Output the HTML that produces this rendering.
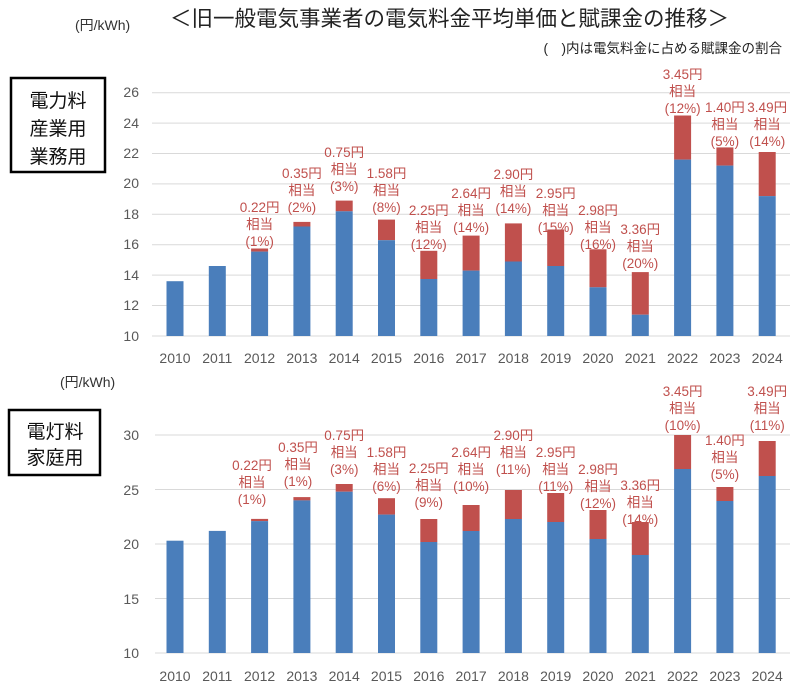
<!DOCTYPE html>
<html><head><meta charset="utf-8"><style>
body{margin:0;background:#fff}
svg{display:block}
text{font-family:"Liberation Sans","Noto Sans CJK JP",sans-serif}
.ax{font-size:14px;fill:#595959}
.lb{font-size:13.5px;fill:#c0504d;text-anchor:middle}
.g{stroke:#d9d9d9;stroke-width:1}
.b{fill:#4a7ebb}.r{fill:#c0504d}
</style></head><body>
<svg width="800" height="695" viewBox="0 0 800 695">
<text x="75" y="30" font-size="14" fill="#333">(円/kWh)</text>
<text x="170" y="26" font-size="21.5" fill="#222">＜旧一般電気事業者の電気料金平均単価と賦課金の推移＞</text>
<text x="782" y="53" font-size="13.5" fill="#222" text-anchor="end">(　)内は電気料金に占める賦課金の割合</text>
<rect x="11" y="78" width="94" height="94" fill="none" stroke="#000" stroke-width="2.5"/>
<text x="58" y="107" font-size="19" text-anchor="middle" fill="#111">電力料</text>
<text x="58" y="135" font-size="19" text-anchor="middle" fill="#111">産業用</text>
<text x="58" y="163" font-size="19" text-anchor="middle" fill="#111">業務用</text>
<g class="g">
<line x1="152" x2="790" y1="92.7" y2="92.7"/><line x1="152" x2="790" y1="123.1" y2="123.1"/><line x1="152" x2="790" y1="153.5" y2="153.5"/><line x1="152" x2="790" y1="183.9" y2="183.9"/><line x1="152" x2="790" y1="214.3" y2="214.3"/><line x1="152" x2="790" y1="244.7" y2="244.7"/><line x1="152" x2="790" y1="275.1" y2="275.1"/><line x1="152" x2="790" y1="305.5" y2="305.5"/><line x1="152" x2="790" y1="336" y2="336"/>
</g>
<g class="ax" text-anchor="end">
<text x="139" y="97">26</text><text x="139" y="128">24</text><text x="139" y="158">22</text><text x="139" y="188">20</text><text x="139" y="219">18</text><text x="139" y="249">16</text><text x="139" y="280">14</text><text x="139" y="310">12</text><text x="139" y="341">10</text>
</g>
<g>
<rect class="b" x="166.5" y="281.2" width="17" height="54.8"/>
<rect class="b" x="208.8" y="266" width="17" height="70"/>
<rect class="r" x="251.1" y="248.5" width="17" height="3.1"/><rect class="b" x="251.1" y="251.6" width="17" height="84.4"/>
<rect class="r" x="293.4" y="221.9" width="17" height="4.6"/><rect class="b" x="293.4" y="226.5" width="17" height="109.5"/>
<rect class="r" x="335.7" y="200.6" width="17" height="10.7"/><rect class="b" x="335.7" y="211.3" width="17" height="124.7"/>
<rect class="r" x="378" y="219.6" width="17" height="20.6"/><rect class="b" x="378" y="240.2" width="17" height="95.8"/>
<rect class="r" x="420.3" y="250.8" width="17" height="28.2"/><rect class="b" x="420.3" y="279" width="17" height="57"/>
<rect class="r" x="462.6" y="235.6" width="17" height="35"/><rect class="b" x="462.6" y="270.6" width="17" height="65.4"/>
<rect class="r" x="504.9" y="223.4" width="17" height="38.1"/><rect class="b" x="504.9" y="261.5" width="17" height="74.5"/>
<rect class="r" x="547.2" y="229.5" width="17" height="36.5"/><rect class="b" x="547.2" y="266" width="17" height="70"/>
<rect class="r" x="589.5" y="249.3" width="17" height="38"/><rect class="b" x="589.5" y="287.3" width="17" height="48.7"/>
<rect class="r" x="631.8" y="272.1" width="17" height="42.6"/><rect class="b" x="631.8" y="314.7" width="17" height="21.3"/>
<rect class="r" x="674.1" y="115.5" width="17" height="44.1"/><rect class="b" x="674.1" y="159.6" width="17" height="176.4"/>
<rect class="r" x="716.4" y="147.4" width="17" height="18.2"/><rect class="b" x="716.4" y="165.6" width="17" height="170.4"/>
<rect class="r" x="758.7" y="152" width="17" height="44.1"/><rect class="b" x="758.7" y="196.1" width="17" height="139.9"/>
</g>
<g class="ax" text-anchor="middle">
<text x="175" y="363">2010</text><text x="217.3" y="363">2011</text><text x="259.6" y="363">2012</text><text x="301.9" y="363">2013</text><text x="344.2" y="363">2014</text><text x="386.5" y="363">2015</text><text x="428.8" y="363">2016</text><text x="471.1" y="363">2017</text><text x="513.4" y="363">2018</text><text x="555.7" y="363">2019</text><text x="598" y="363">2020</text><text x="640.3" y="363">2021</text><text x="682.6" y="363">2022</text><text x="724.9" y="363">2023</text><text x="767.2" y="363">2024</text>
</g>
<g class="lb">
<text x="259.6" y="212">0.22円<tspan x="259.6" dy="17">相当</tspan><tspan x="259.6" dy="17">(1%)</tspan></text>
<text x="301.9" y="178">0.35円<tspan x="301.9" dy="17">相当</tspan><tspan x="301.9" dy="17">(2%)</tspan></text>
<text x="344.2" y="157">0.75円<tspan x="344.2" dy="17">相当</tspan><tspan x="344.2" dy="17">(3%)</tspan></text>
<text x="386.5" y="178">1.58円<tspan x="386.5" dy="17">相当</tspan><tspan x="386.5" dy="17">(8%)</tspan></text>
<text x="428.8" y="215">2.25円<tspan x="428.8" dy="17">相当</tspan><tspan x="428.8" dy="17">(12%)</tspan></text>
<text x="471.1" y="198">2.64円<tspan x="471.1" dy="17">相当</tspan><tspan x="471.1" dy="17">(14%)</tspan></text>
<text x="513.4" y="179">2.90円<tspan x="513.4" dy="17">相当</tspan><tspan x="513.4" dy="17">(14%)</tspan></text>
<text x="555.7" y="198">2.95円<tspan x="555.7" dy="17">相当</tspan><tspan x="555.7" dy="17">(15%)</tspan></text>
<text x="598" y="215">2.98円<tspan x="598" dy="17">相当</tspan><tspan x="598" dy="17">(16%)</tspan></text>
<text x="640.3" y="234">3.36円<tspan x="640.3" dy="17">相当</tspan><tspan x="640.3" dy="17">(20%)</tspan></text>
<text x="682.6" y="79">3.45円<tspan x="682.6" dy="17">相当</tspan><tspan x="682.6" dy="17">(12%)</tspan></text>
<text x="724.9" y="112">1.40円<tspan x="724.9" dy="17">相当</tspan><tspan x="724.9" dy="17">(5%)</tspan></text>
<text x="767.2" y="112">3.49円<tspan x="767.2" dy="17">相当</tspan><tspan x="767.2" dy="17">(14%)</tspan></text>
</g>

<text x="60" y="387" font-size="14" fill="#333">(円/kWh)</text>
<rect x="9" y="410" width="91" height="65" fill="none" stroke="#000" stroke-width="2.5"/>
<text x="55" y="438" font-size="19" text-anchor="middle" fill="#111">電灯料</text>
<text x="55" y="464" font-size="19" text-anchor="middle" fill="#111">家庭用</text>
<g class="g">
<line x1="155" x2="790" y1="435" y2="435"/><line x1="155" x2="790" y1="489.5" y2="489.5"/><line x1="155" x2="790" y1="544" y2="544"/><line x1="155" x2="790" y1="598.5" y2="598.5"/><line x1="155" x2="790" y1="653" y2="653"/>
</g>
<g class="ax" text-anchor="end">
<text x="139" y="440">30</text><text x="139" y="495">25</text><text x="139" y="549">20</text><text x="139" y="604">15</text><text x="139" y="658">10</text>
</g>
<g>
<rect class="b" x="166.5" y="540.7" width="17" height="112.3"/>
<rect class="b" x="208.8" y="530.9" width="17" height="122.1"/>
<rect class="r" x="251.1" y="518.9" width="17" height="2.2"/><rect class="b" x="251.1" y="521.1" width="17" height="131.9"/>
<rect class="r" x="293.4" y="497.1" width="17" height="3.3"/><rect class="b" x="293.4" y="500.4" width="17" height="152.6"/>
<rect class="r" x="335.7" y="484" width="17" height="7.7"/><rect class="b" x="335.7" y="491.7" width="17" height="161.3"/>
<rect class="r" x="378" y="498.2" width="17" height="16.4"/><rect class="b" x="378" y="514.6" width="17" height="138.4"/>
<rect class="r" x="420.3" y="519" width="17" height="23"/><rect class="b" x="420.3" y="542" width="17" height="111"/>
<rect class="r" x="462.6" y="505" width="17" height="26"/><rect class="b" x="462.6" y="531" width="17" height="122"/>
<rect class="r" x="504.9" y="490" width="17" height="29"/><rect class="b" x="504.9" y="519" width="17" height="134"/>
<rect class="r" x="547.2" y="493" width="17" height="29"/><rect class="b" x="547.2" y="522" width="17" height="131"/>
<rect class="r" x="589.5" y="510" width="17" height="29"/><rect class="b" x="589.5" y="539" width="17" height="114"/>
<rect class="r" x="631.8" y="522" width="17" height="33"/><rect class="b" x="631.8" y="555" width="17" height="98"/>
<rect class="r" x="674.1" y="435" width="17" height="34"/><rect class="b" x="674.1" y="469" width="17" height="184"/>
<rect class="r" x="716.4" y="487" width="17" height="14"/><rect class="b" x="716.4" y="501" width="17" height="152"/>
<rect class="r" x="758.7" y="441" width="17" height="35"/><rect class="b" x="758.7" y="476" width="17" height="177"/>
</g>
<g class="ax" text-anchor="middle">
<text x="175" y="681">2010</text><text x="217.3" y="681">2011</text><text x="259.6" y="681">2012</text><text x="301.9" y="681">2013</text><text x="344.2" y="681">2014</text><text x="386.5" y="681">2015</text><text x="428.8" y="681">2016</text><text x="471.1" y="681">2017</text><text x="513.4" y="681">2018</text><text x="555.7" y="681">2019</text><text x="598" y="681">2020</text><text x="640.3" y="681">2021</text><text x="682.6" y="681">2022</text><text x="724.9" y="681">2023</text><text x="767.2" y="681">2024</text>
</g>
<g class="lb">
<text x="252" y="470">0.22円<tspan x="252" dy="17">相当</tspan><tspan x="252" dy="17">(1%)</tspan></text>
<text x="298" y="452">0.35円<tspan x="298" dy="17">相当</tspan><tspan x="298" dy="17">(1%)</tspan></text>
<text x="344.2" y="440">0.75円<tspan x="344.2" dy="17">相当</tspan><tspan x="344.2" dy="17">(3%)</tspan></text>
<text x="386.5" y="457">1.58円<tspan x="386.5" dy="17">相当</tspan><tspan x="386.5" dy="17">(6%)</tspan></text>
<text x="428.8" y="473">2.25円<tspan x="428.8" dy="17">相当</tspan><tspan x="428.8" dy="17">(9%)</tspan></text>
<text x="471.1" y="457">2.64円<tspan x="471.1" dy="17">相当</tspan><tspan x="471.1" dy="17">(10%)</tspan></text>
<text x="513.4" y="440">2.90円<tspan x="513.4" dy="17">相当</tspan><tspan x="513.4" dy="17">(11%)</tspan></text>
<text x="555.7" y="457">2.95円<tspan x="555.7" dy="17">相当</tspan><tspan x="555.7" dy="17">(11%)</tspan></text>
<text x="598" y="474">2.98円<tspan x="598" dy="17">相当</tspan><tspan x="598" dy="17">(12%)</tspan></text>
<text x="640.3" y="490">3.36円<tspan x="640.3" dy="17">相当</tspan><tspan x="640.3" dy="17">(14%)</tspan></text>
<text x="682.6" y="396">3.45円<tspan x="682.6" dy="17">相当</tspan><tspan x="682.6" dy="17">(10%)</tspan></text>
<text x="724.9" y="445">1.40円<tspan x="724.9" dy="17">相当</tspan><tspan x="724.9" dy="17">(5%)</tspan></text>
<text x="767.2" y="396">3.49円<tspan x="767.2" dy="17">相当</tspan><tspan x="767.2" dy="17">(11%)</tspan></text>
</g>
</svg>
</body></html>
